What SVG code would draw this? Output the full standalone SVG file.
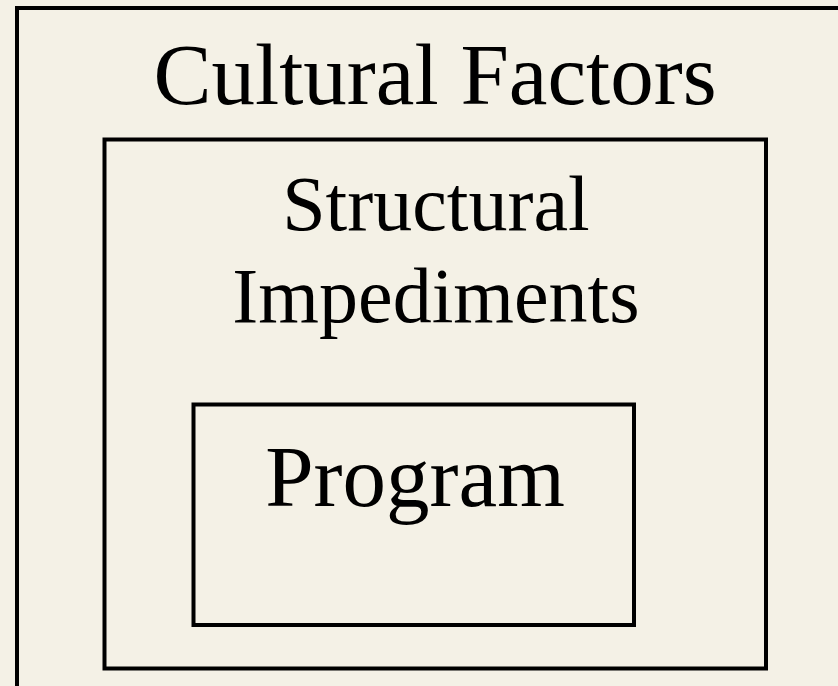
<svg xmlns="http://www.w3.org/2000/svg" width="838" height="686" viewBox="0 0 838 686">
<style>
.box{fill:none;stroke:#000;stroke-width:4}
.t{font-family:"Liberation Serif","Times New Roman",serif;fill:#000;text-anchor:middle}
</style>
<rect x="0" y="0" width="838" height="686" fill="#F4F1E6"/>
<g id="cultural-factors">
<rect class="box" x="17" y="8" width="840" height="700"/>
<text class="t" x="435" y="104" font-size="87">Cultural Factors</text>
</g>
<g id="structural-impediments">
<rect class="box" x="104.5" y="139.5" width="661.5" height="529"/>
<text class="t" x="436" y="230" font-size="78">Structural</text>
<text class="t" x="436" y="322" font-size="78">Impediments</text>
</g>
<g id="program">
<rect class="box" x="193.5" y="404.5" width="440.5" height="220.5"/>
<text class="t" x="415" y="506" font-size="87">Program</text>
</g>
<g id="connectors"/>
</svg>
